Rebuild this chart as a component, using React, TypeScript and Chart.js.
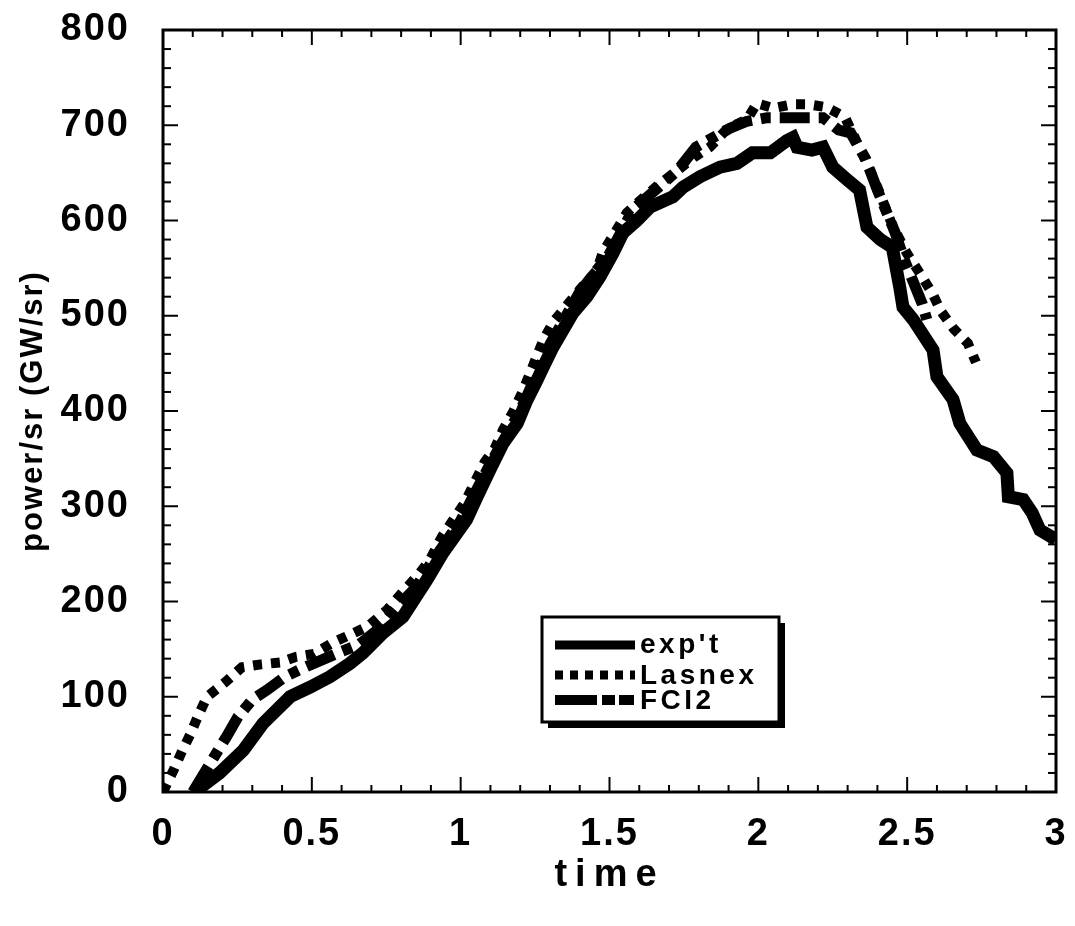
import React, { useEffect, useRef } from "react";
import { Chart, registerables } from "chart.js";

Chart.register(...registerables);

// ---------- data ----------
const exptX = [0.1, 0.114, 0.19, 0.27, 0.336, 0.427, 0.494, 0.561, 0.628, 0.672, 0.739, 0.806, 0.887, 0.94, 1.02, 1.055, 1.098, 1.142, 1.19, 1.222, 1.256, 1.277, 1.31, 1.377, 1.424, 1.468, 1.512, 1.545, 1.592, 1.636, 1.713, 1.747, 1.804, 1.871, 1.928, 1.98, 2.04, 2.096, 2.116, 2.13, 2.18, 2.217, 2.25, 2.298, 2.34, 2.365, 2.41, 2.45, 2.475, 2.486, 2.52, 2.587, 2.6, 2.654, 2.677, 2.734, 2.79, 2.835, 2.84, 2.89, 2.92, 2.946, 3.0];
const exptY = [0, 2, 20, 44, 72, 100, 110, 121, 135, 146, 167, 184, 223, 251, 286, 310, 338, 366, 387, 411, 432, 446, 467, 503, 520, 541, 566, 587, 600, 614, 625, 635, 646, 656, 660, 671, 671, 684, 687, 677, 674, 677, 656, 643, 632, 593, 580, 572, 530, 509, 496, 464, 436, 412, 387, 359, 352, 335, 310, 307, 293, 275, 265];

const lasnexX = [0, 0.037, 0.064, 0.091, 0.118, 0.148, 0.208, 0.265, 0.329, 0.393, 0.447, 0.507, 0.571, 0.628, 0.689, 0.752, 0.803, 0.863, 0.897, 0.937, 0.98, 1.014, 1.08, 1.115, 1.142, 1.176, 1.206, 1.24, 1.277, 1.31, 1.357, 1.407, 1.458, 1.478, 1.518, 1.558, 1.592, 1.663, 1.73, 1.787, 1.837, 1.898, 1.962, 1.995, 2.05, 2.113, 2.167, 2.227, 2.29, 2.35, 2.4, 2.45, 2.5, 2.55, 2.587, 2.613, 2.657, 2.704, 2.731];
const lasnexY = [0, 24, 43, 60, 80, 100, 115, 131, 134, 136, 142, 145, 157, 165, 174, 191, 209, 230, 244, 268, 288, 304, 346, 361, 380, 399, 419, 445, 474, 493, 511, 530, 548, 567, 587, 608, 618, 637, 653, 667, 677, 697, 706, 723, 718, 722, 722, 719, 709, 670, 635, 595, 565, 541, 522, 505, 486, 471, 451];

const fci2X = [0.1, 0.18, 0.215, 0.252, 0.3, 0.349, 0.41, 0.477, 0.588, 0.66, 0.72, 0.786, 0.85, 0.9, 1.0, 1.1, 1.2, 1.3, 1.4, 1.5, 1.58, 1.68, 1.73, 1.79, 1.905, 1.96, 2.03, 2.1, 2.16, 2.217, 2.27, 2.31, 2.36, 2.4, 2.46, 2.49, 2.55, 2.566];
const fci2Y = [0, 41, 59, 79, 97, 107, 121, 131, 146, 155, 170, 194, 215, 240, 285, 345, 400, 470, 525, 565, 612, 639, 653, 677, 697, 704, 708, 708, 708, 708, 695, 692, 665, 632, 587, 559, 513, 496];

const xTicks = [0, 0.5, 1, 1.5, 2, 2.5, 3];
const yTicks = [0, 100, 200, 300, 400, 500, 600, 700, 800];
const seriesNames = ["exp't", "Lasnex", "FCI2"];
const xTitle = "time";
const yTitle = "power/sr (GW/sr)";

const FONT = "'Liberation Sans', Arial, Helvetica, sans-serif";

const toPts = (xs: number[], ys: number[]) => xs.map((x, i) => ({ x, y: ys[i] }));

const LASNEX_DASH = [9, 9];
const FCI2_DASH = [30, 9, 10, 9];

const framePlugin = {
  id: "frame",
  beforeDraw(chart: any) {
    // spacing for tick labels and y title (drawn before datasets)
    chart.ctx.letterSpacing = "2px";
  },
  afterDatasetsDraw(chart: any) {
    const { ctx, chartArea } = chart;
    const { left, right, top, bottom } = chartArea;
    const xs = chart.scales.x;
    const ys = chart.scales.y;
    ctx.save();
    ctx.strokeStyle = "#000";
    ctx.lineWidth = 2;
    const seg = (a: number, b: number, c: number, d: number) => {
      ctx.beginPath();
      ctx.moveTo(a, b);
      ctx.lineTo(c, d);
      ctx.stroke();
    };
    for (let i = 0; i <= 30; i++) {
      const v = i / 10;
      const px = xs.getPixelForValue(v);
      const len = i % 5 === 0 ? 15 : 7;
      seg(px, bottom, px, bottom - len);
      seg(px, top, px, top + len);
    }
    for (let i = 0; i <= 40; i++) {
      const v = i * 20;
      const py = ys.getPixelForValue(v);
      const len = i % 5 === 0 ? 15 : 8;
      seg(left, py, left + len, py);
      seg(right, py, right - len, py);
    }
    ctx.lineWidth = 3;
    ctx.strokeRect(left, top, right - left, bottom - top);
    ctx.restore();
    // spacing for the x title (drawn after datasets, z = 1)
    ctx.letterSpacing = "8px";
  },
  afterDraw(chart: any) {
    const { ctx, chartArea } = chart;
    const bx = chartArea.left + 379;
    const by = chartArea.top + 587;
    const bw = 237;
    const bh = 105;
    ctx.save();
    ctx.fillStyle = "#000";
    ctx.fillRect(bx + 6, by + 6, bw, bh);
    ctx.fillStyle = "#fff";
    ctx.fillRect(bx, by, bw, bh);
    ctx.strokeStyle = "#000";
    ctx.lineWidth = 3;
    ctx.strokeRect(bx, by, bw, bh);
    const styles = [
      { dash: [], w: 9 },
      { dash: [8, 7], w: 9 },
      { dash: [42, 5, 13, 4, 15], w: 10 },
    ];
    const rows = [28, 58, 83];
    ctx.lineCap = "butt";
    styles.forEach((s, i) => {
      ctx.beginPath();
      ctx.setLineDash(s.dash);
      ctx.lineWidth = s.w;
      ctx.moveTo(bx + 13, by + rows[i]);
      ctx.lineTo(bx + 93, by + rows[i]);
      ctx.stroke();
    });
    ctx.setLineDash([]);
    ctx.fillStyle = "#000";
    ctx.font = `bold 28px ${FONT}`;
    (ctx as any).letterSpacing = "3.5px";
    ctx.textBaseline = "alphabetic";
    ctx.textAlign = "left";
    const base = [36, 67, 92];
    seriesNames.forEach((n, i) => ctx.fillText(n, bx + 98, by + base[i]));
    ctx.restore();
  },
};

const zeroPad = (s: any) => {
  s.paddingTop = 0;
  s.paddingBottom = 0;
  s.paddingLeft = 0;
  s.paddingRight = 0;
};

export default function App() {
  const ref = useRef<HTMLCanvasElement | null>(null);
  useEffect(() => {
    if (!ref.current) return;
    const chart = new Chart(ref.current, {
      type: "line",
      data: {
        datasets: [
          {
            label: seriesNames[0],
            data: toPts(exptX, exptY),
            borderColor: "#000",
            borderWidth: 13,
            pointRadius: 0,
            borderJoinStyle: "miter",
            tension: 0,
          },
          {
            label: seriesNames[1],
            data: toPts(lasnexX, lasnexY),
            borderColor: "#000",
            borderWidth: 10,
            borderDash: LASNEX_DASH,
            borderCapStyle: "butt",
            pointRadius: 0,
            tension: 0,
          },
          {
            label: seriesNames[2],
            data: toPts(fci2X, fci2Y),
            borderColor: "#000",
            borderWidth: 11,
            borderDash: FCI2_DASH,
            borderCapStyle: "butt",
            pointRadius: 0,
            tension: 0,
          },
        ],
      },
      options: {
        responsive: false,
        animation: false,
        events: [],
        layout: { padding: { left: 0, right: 19, top: 30, bottom: 0 } },
        plugins: { legend: { display: false }, tooltip: { enabled: false } },
        scales: {
          x: {
            type: "linear",
            min: 0,
            max: 3,
            grid: { display: false, z: 1 },
            border: { display: false },
            afterBuildTicks: (s: any) => {
              s.ticks = xTicks.map((v) => ({ value: v }));
            },
            afterFit: (s: any) => {
              s.height = 134;
              zeroPad(s);
            },
            ticks: {
              z: 0,
              color: "#000",
              padding: 12,
              maxRotation: 0,
              autoSkip: false,
              font: { family: FONT, size: 38, weight: "bold" },
              callback: (v: any) => String(v),
            },
            title: {
              display: true,
              text: xTitle,
              color: "#000",
              font: { family: FONT, size: 38, weight: "bold" },
              padding: { top: 0, bottom: 28 },
            },
          },
          y: {
            type: "linear",
            min: 0,
            max: 800,
            grid: { display: false, z: 0 },
            border: { display: false },
            afterBuildTicks: (s: any) => {
              s.ticks = yTicks.map((v) => ({ value: v }));
            },
            afterFit: (s: any) => {
              s.width = 163;
              zeroPad(s);
            },
            ticks: {
              z: 0,
              color: "#000",
              padding: 25,
              autoSkip: false,
              font: { family: FONT, size: 38, weight: "bold" },
              callback: (v: any) => String(v),
            },
            title: {
              display: true,
              text: yTitle,
              color: "#000",
              font: { family: FONT, size: 31, weight: "bold" },
              padding: { top: 15, bottom: 0 },
            },
          },
        },
      },
      plugins: [framePlugin],
    } as any);
    return () => chart.destroy();
  }, []);
  return (
    <div style={{ position: "fixed", left: 0, top: 0, width: 1075, height: 926, background: "#fff" }}>
      <canvas ref={ref} width={1075} height={926} style={{ display: "block" }} />
    </div>
  );
}
